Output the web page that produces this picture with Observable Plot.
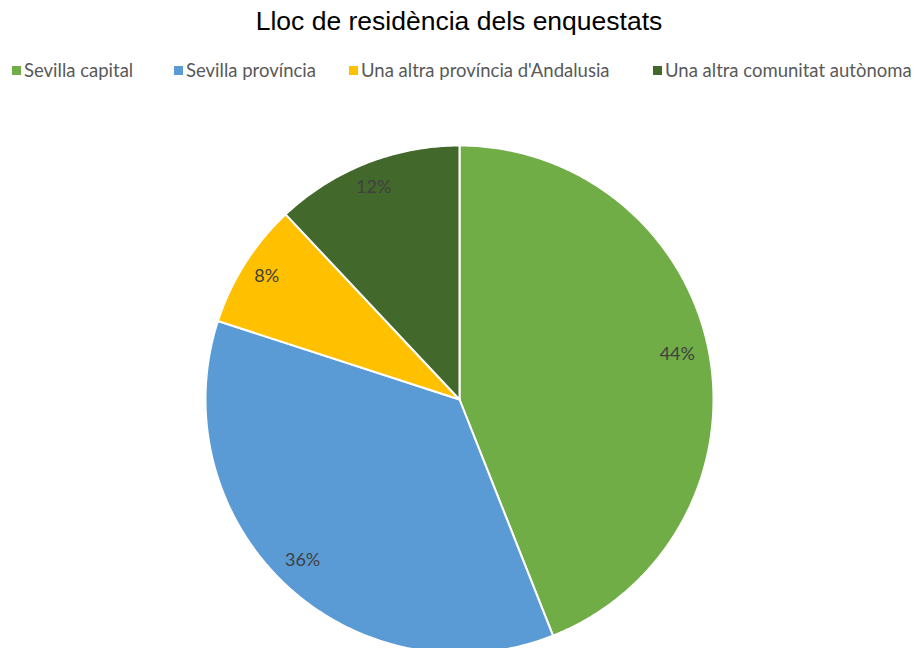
<!DOCTYPE html>
<html>
<head>
<meta charset="utf-8">
<script src="https://cdn.jsdelivr.net/npm/d3@7"></script>
<script src="https://cdn.jsdelivr.net/npm/@observablehq/plot@0.6"></script>
<style>
  html, body { margin: 0; padding: 0; background: #fff; overflow: hidden; }
  #wrap { position: relative; width: 918px; height: 648px; }
  #title { position: absolute; left: 0; width: 918px; top: 6px; text-align: center;
           font-family: "Liberation Sans", Arial, sans-serif; font-size: 26.5px; color: #000; }
  .leg { position: absolute; top: 59px; font-family: Lato, sans-serif; font-size: 18.5px; color: #595959; white-space: nowrap; }
  .sw { position: absolute; width: 9px; height: 9px; top: 66px; }
  #chart { position: absolute; left: 0; top: 100px; }
</style>
</head>
<body>
<div id="wrap">
  <div id="title">Lloc de residència dels enquestats</div>
  <div id="legend"></div>
  <div id="chart"></div>
</div>
<script>
const categories = ["Sevilla capital", "Sevilla província", "Una altra província d'Andalusia", "Una altra comunitat autònoma"];
const values = [44, 36, 8, 12];
const labels = ["44%", "36%", "8%", "12%"];
const colors = ["#70AD47", "#5B9BD5", "#FFC000", "#43682B"];

// legend
const legendX = [12, 174, 349, 653];
const legend = document.getElementById("legend");
categories.forEach((c, i) => {
  const sw = document.createElement("div");
  sw.className = "sw";
  sw.style.left = legendX[i] + "px";
  sw.style.background = colors[i];
  legend.appendChild(sw);
  const t = document.createElement("div");
  t.className = "leg";
  t.style.left = (legendX[i] + 12) + "px";
  t.textContent = c;
  legend.appendChild(t);
});

// pie geometry in data units (radius 1), clockwise from 12 o'clock
const total = d3.sum(values);
const slices = [];
const labelRows = [];
let acc = 0;
categories.forEach((c, i) => {
  const a0 = acc / total * 2 * Math.PI;
  acc += values[i];
  const a1 = acc / total * 2 * Math.PI;
  slices.push({cat: c, x: 0, y: 0});
  const n = Math.max(2, Math.ceil((a1 - a0) / (Math.PI / 360)));
  for (let k = 0; k <= n; k++) {
    const a = a0 + (a1 - a0) * k / n;
    slices.push({cat: c, x: Math.sin(a), y: Math.cos(a)});
  }
  const am = (a0 + a1) / 2;
  labelRows.push({label: labels[i], x: 0.885 * Math.sin(am), y: 0.885 * Math.cos(am)});
});

const W = 918, H = 600, R = 254, cx = 459, cy = 299;
const chart = Plot.plot({
  width: W, height: H,
  margin: 0,
  x: {domain: [-cx / R, (W - cx) / R], axis: null},
  y: {domain: [-(H - cy) / R, cy / R], axis: null},
  color: {domain: categories, range: colors},
  marks: [
    Plot.line(slices, {x: "x", y: "y", z: "cat", fill: "cat", stroke: "white", strokeWidth: 2, curve: "linear-closed", strokeLinejoin: "round"}),
    Plot.text(labelRows, {x: "x", y: "y", dx: -3, dy: -3, text: "label", fill: "#404040", fontSize: 18, fontFamily: "Lato, sans-serif"})
  ],
  style: {background: "white"}
});
document.getElementById("chart").appendChild(chart);
</script>
</body>
</html>
